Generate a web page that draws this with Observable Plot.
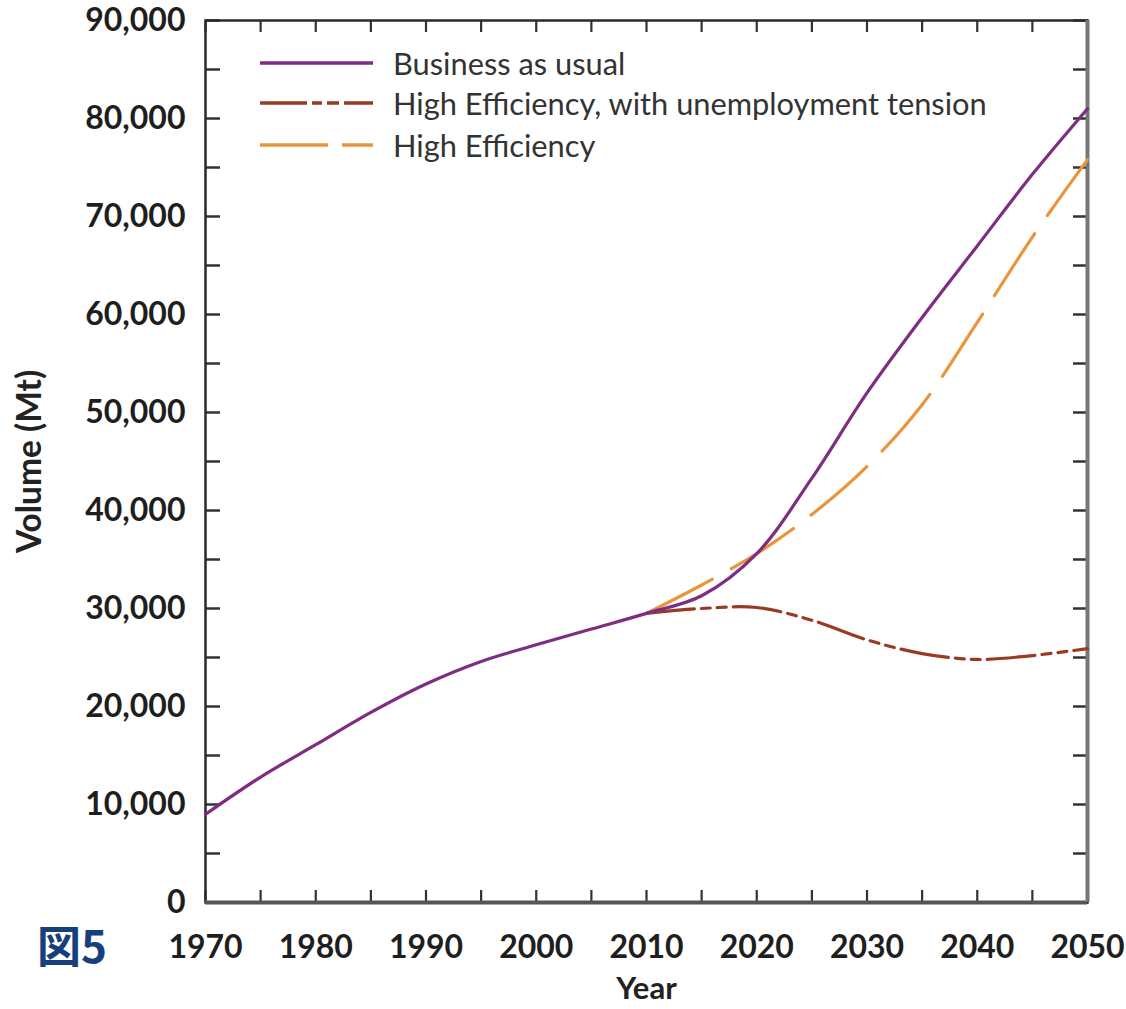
<!DOCTYPE html>
<html><head><meta charset="utf-8">
<script src="https://cdn.jsdelivr.net/npm/d3@7"></script>
<script src="https://cdn.jsdelivr.net/npm/@observablehq/plot@0.6"></script>
<style>
body{margin:0;background:#fff;}
#wrap{position:relative;width:1126px;height:1009px;font-family:Lato,"Open Sans",sans-serif;}
#fig{position:absolute;left:37px;top:922px;font-family:"Noto Sans CJK JP",sans-serif;font-weight:700;font-size:44px;color:#173f7b;line-height:1;}
.leg{position:absolute;left:260px;height:30px;display:flex;align-items:center;font-size:30.8px;color:#333;}
.leg svg{margin-right:20px;}
</style></head>
<body><div id="wrap"></div>
<script>
const years = [1970,1975,1980,1985,1990,1995,2000,2005,2010,2015,2020,2025,2030,2035,2040,2045,2050];
const bau = [9000,12800,16100,19400,22300,24600,26300,27900,29500,31300,35600,43300,52000,59700,67000,74300,81000];
const projYears = [2010,2015,2020,2025,2030,2035,2040,2045,2050];
const heUnemp = [29500,30000,30100,28800,26800,25400,24800,25200,25900];
const he = [29500,32400,35600,39600,44500,50800,59200,67900,75800];
const seriesNames = ["Business as usual","High Efficiency, with unemployment tension","High Efficiency"];
const seriesColors = ["#7e2d83","#9b3a22","#e8953c"];
const seriesDash = [null,"48,7,9,7,9,7","74,22"];
const xTicks = d3.range(1970,2051,10);
const xMinor = d3.range(1970,2051,5);
const yTicks = d3.range(0,90001,10000);
const yMinor = d3.range(0,90001,5000);

const rows = [
  ...years.map((y,i)=>({year:y,v:bau[i],s:0})),
  ...projYears.map((y,i)=>({year:y,v:heUnemp[i],s:1})),
  ...projYears.map((y,i)=>({year:y,v:he[i],s:2}))
];

const font = "Lato, 'Open Sans', sans-serif";
const plot = Plot.plot({
  width:1126, height:1009,
  marginLeft:205, marginRight:39, marginTop:20, marginBottom:107,
  style:{fontFamily:font, background:"#fff", color:"#222"},
  x:{domain:[1970,2050]},
  y:{domain:[0,90000]},
  marks:[
    Plot.axisX(xMinor,{anchor:"bottom", tickSize:-12, text:null, stroke:"#333", strokeWidth:2.2, label:null}),
    Plot.axisX(xMinor,{anchor:"top", tickSize:-11, text:null, stroke:"#333", strokeWidth:2.2, label:null}),
    Plot.axisX(xTicks,{anchor:"bottom", tickSize:0, tickPadding:33, fontSize:32, fontWeight:700, tickFormat:d=>String(d), label:null, fill:"#1e1e1e"}),
    Plot.axisY(yMinor,{anchor:"left", tickSize:-15, text:null, stroke:"#333", strokeWidth:2.5, label:null}),
    Plot.axisY(yMinor,{anchor:"right", tickSize:-15, text:null, stroke:"#333", strokeWidth:2.5, label:null}),
    Plot.axisY(yTicks,{anchor:"left", tickSize:0, tickPadding:20, fontSize:32, fontWeight:700, tickFormat:d3.format(","), label:null, fill:"#1e1e1e"}),
    Plot.frame({stroke:"#2a2a2a", strokeWidth:2.5}),
    Plot.ruleY([0],{stroke:"#555", strokeWidth:4}),
    Plot.ruleX([2050],{stroke:"#777", strokeWidth:4}),
    ...[2,1,0].map(k=>Plot.line(rows.filter(d=>d.s===k),{x:"year", y:"v", stroke:seriesColors[k], strokeWidth:3.2, strokeDasharray:seriesDash[k], curve:"catmull-rom"})),
    Plot.text(["Year"],{frameAnchor:"bottom", dy:87, lineAnchor:"middle", fontSize:31, fontWeight:700, fill:"#222"}),
    Plot.text(["Volume (Mt)"],{frameAnchor:"left", dx:-175, rotate:-90, textAnchor:"middle", fontSize:33.5, fontWeight:700, fill:"#222"})
  ]
});
const wrap = document.getElementById("wrap");
wrap.appendChild(plot);
const legTops=[48,88,130];
seriesNames.forEach((n,i)=>{
  const d=document.createElement("div");
  d.className="leg"; d.style.top=legTops[i]+"px";
  d.innerHTML=`<svg width="113" height="10"><line x1="0" x2="113" y1="5" y2="5" stroke="${seriesColors[i]}" stroke-width="3.5" ${seriesDash[i]?`stroke-dasharray="${i===2?'68,14':'47,5,10,5,12,5'}"`:''}/></svg><span>${n}</span>`;
  wrap.appendChild(d);
});
const f=document.createElement("div"); f.id="fig"; f.textContent="図5"; wrap.appendChild(f);
</script>
</body></html>
